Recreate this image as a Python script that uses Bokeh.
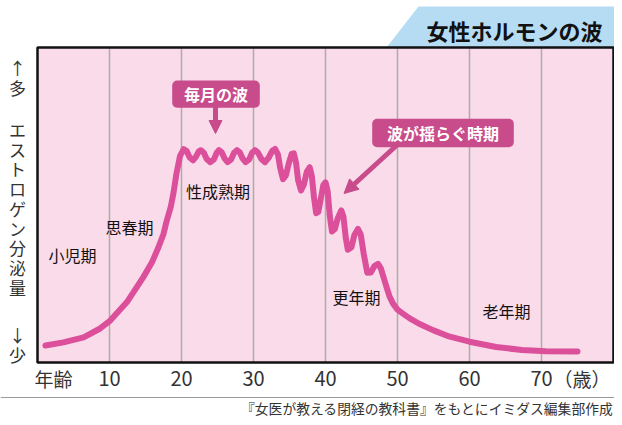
from bokeh.plotting import figure
from bokeh.models import Range1d, Arrow, NormalHead
from bokeh.core.properties import value
from bokeh.embed import file_html
from bokeh.resources import INLINE

# ---------------- data ----------------
ages = [1.1, 3.6, 6.4, 8.7, 10.1, 12.4, 14.7, 15.9, 16.8, 17.5, 17.9, 18.5, 18.9,
        19.3, 19.8,
        20.3, 20.7, 21.1, 21.6, 22.0, 22.4, 22.7, 23.1, 23.5, 24.0, 24.5, 24.9,
        25.2, 25.6, 26.0, 26.4, 26.9, 27.3, 27.7, 28.1, 28.5, 28.9, 29.4, 29.8,
        30.2, 30.6, 31.1, 31.6, 32.1, 32.6, 33.0, 33.4, 33.7, 34.1, 34.5, 34.9,
        35.3, 35.6, 35.9, 36.2, 36.6, 37.0, 37.4, 37.8, 38.1, 38.4, 38.7, 39.0,
        39.4, 39.7, 40.0, 40.3, 40.6, 40.9, 41.3, 41.7, 42.2, 42.5, 42.8, 43.1,
        43.6, 44.0, 44.5, 44.9, 45.3, 45.8, 46.3, 46.8, 47.3, 47.7, 48.1, 48.5,
        48.9, 49.4, 50.0, 50.7, 51.7, 53.0, 55.0, 57.0, 60.0, 63.7, 67.3, 70.6,
        75.0]
levels = [5.4, 6.4, 8.0, 10.8, 13.3, 19.1, 27.1, 31.8, 36.6, 40.8, 44.6, 49.3, 54.0,
          60.0, 65.6,
          67.7, 67.2, 65.2, 64.2, 65.3, 67.0, 67.4, 66.6, 64.6, 63.6, 64.5, 66.6,
          67.4, 66.7, 64.7, 63.6, 64.5, 66.6, 67.4, 66.7, 64.7, 63.6, 64.5, 66.6,
          67.4, 66.7, 64.6, 63.6, 65.0, 67.2, 67.8, 66.0, 61.8, 58.2, 59.4, 63.2,
          66.2, 66.4, 63.5, 57.8, 54.6, 56.5, 60.5, 62.0, 59.2, 52.5, 47.4, 47.8,
          52.6, 56.3, 57.2, 54.4, 46.5, 41.6, 42.4, 45.8, 48.3, 46.2, 39.8, 35.8,
          36.6, 40.4, 42.4, 40.6, 34.6, 28.5, 28.6, 30.6, 31.3, 29.8, 26.8, 23.8,
          20.9, 18.6, 16.8, 15.6, 14.0, 12.3, 10.2, 8.4, 6.6, 4.9, 4.0, 3.6,
          3.5]

tick_ages = [10, 20, 30, 40, 50, 60, 70]
tick_labels = ["10", "20", "30", "40", "50", "60", "70"]
x_title = "年齢"
x_unit = "（歳）"
y_title = "エストロゲン分泌量"
y_top = ["↑", "多"]
y_bottom = ["↓", "少"]
stage_names = ["小児期", "思春期", "性成熟期", "更年期", "老年期"]
note_monthly = "毎月の波"
note_unstable = "波が揺らぐ時期"
chart_title = "女性ホルモンの波"
source_note = "『女医が教える閉経の教科書』をもとにイミダス編集部作成"

# ---------------- layout helpers ----------------
W, H = 614, 417
X0, Y0 = 37.0, 362.0          # picture pixel of age 0 / level 0
PXY, PXL = 7.2, 3.15          # pixels per year / per level unit


def ax(wx):
    return (wx - X0) / PXY


def lv(wy):
    return (Y0 - wy) / PXL


FONT = value("Noto Sans CJK JP")
PINK = "#fadbe9"
CURVE = "#db4f9b"
BOX = "#c84b8b"
BLUE = "#b5dcf2"

p = figure(width=W, height=H, title=None,
           x_range=Range1d(ax(0), ax(W)), y_range=Range1d(lv(H), lv(0)),
           output_backend="svg", toolbar_location=None,
           x_axis_location=None, y_axis_location=None, min_border=0)
p.outline_line_color = None
p.grid.visible = False
p.background_fill_color = "white"
p.border_fill_color = "white"

# title bar
p.patch([ax(386), ax(418), ax(618), ax(618)], [lv(47), lv(6), lv(6), lv(47)],
        fill_color=BLUE, line_color=None)
p.text(x=[ax(514)], y=[lv(29)], text=[chart_title], text_font=FONT,
       text_font_size=value("22px"), text_font_style="bold", text_color="#111111",
       text_align="center", text_baseline="middle")

# plot area
p.quad(left=0, right=80, bottom=0, top=100, fill_color=PINK, line_color=None)
p.segment(x0=tick_ages, y0=0, x1=tick_ages, y1=100, line_color="#acacac", line_width=1.5)
p.quad(left=0, right=80, bottom=0, top=100, fill_color=None, line_color="#111111", line_width=2.5)

# curve
p.line(ages, levels, line_color=CURVE, line_width=6, line_cap="round", line_join="round")

# stage labels
stage_x = [ax(72), ax(129), ax(217.5), ax(356), ax(506)]
stage_y = [lv(254), lv(226), lv(190), lv(296), lv(310)]
p.text(x=stage_x, y=stage_y, text=stage_names, text_font=FONT,
       text_font_size=value("16px"), text_color="#111111",
       text_align="center", text_baseline="middle")

# annotation boxes
p.quad(left=[ax(171.7), ax(371.7)], right=[ax(259.3), ax(513.3)],
       top=[lv(80), lv(118.3)], bottom=[lv(107.3), lv(146.7)],
       fill_color=BOX, line_color=None, border_radius=5)
p.text(x=[ax(215.5), ax(442.5)], y=[lv(93.8), lv(132.7)], text=[note_monthly, note_unstable],
       text_font=FONT, text_font_size=value("16px"), text_font_style="bold",
       text_color="white", text_align="center", text_baseline="middle")
p.add_layout(Arrow(end=NormalHead(size=13, fill_color=BOX, line_color=BOX),
                   x_start=ax(215), y_start=lv(106), x_end=ax(215), y_end=lv(133),
                   line_color=BOX, line_width=5))
p.add_layout(Arrow(end=NormalHead(size=14, fill_color=BOX, line_color=BOX),
                   x_start=ax(396), y_start=lv(145), x_end=ax(343.5), y_end=lv(193),
                   line_color=BOX, line_width=5))

# vertical y label (stacked characters)
vchars = y_top + list(y_title) + y_bottom
vy = [67, 87] + [129 + 19.7 * i for i in range(len(y_title))] + [334, 354]
p.text(x=[ax(17)] * len(vchars), y=[lv(v) for v in vy], text=vchars, text_font=FONT,
       text_font_size=value("17px"), text_color="#333333",
       text_align="center", text_baseline="middle")

# x tick labels
p.text(x=tick_ages, y=[lv(378)] * len(tick_ages), text=tick_labels, text_font=FONT,
       text_font_size=value("20px"), text_color="#333333",
       text_align="center", text_baseline="middle")
p.text(x=[ax(53)], y=[lv(378)], text=[x_title], text_font=FONT,
       text_font_size=value("19px"), text_color="#333333",
       text_align="center", text_baseline="middle")
p.text(x=[ax(553)], y=[lv(378)], text=[x_unit], text_font=FONT,
       text_font_size=value("19px"), text_color="#333333",
       text_align="left", text_baseline="middle")

# footer
p.line([ax(0), ax(W)], [lv(397), lv(397)], line_color="#9a9a9a", line_width=1)
p.text(x=[ax(613)], y=[lv(407)], text=[source_note], text_font=FONT,
       text_font_size=value("13.8px"), text_color="#333333",
       text_align="right", text_baseline="middle")

open("out.html", "w").write(file_html(p, INLINE))
